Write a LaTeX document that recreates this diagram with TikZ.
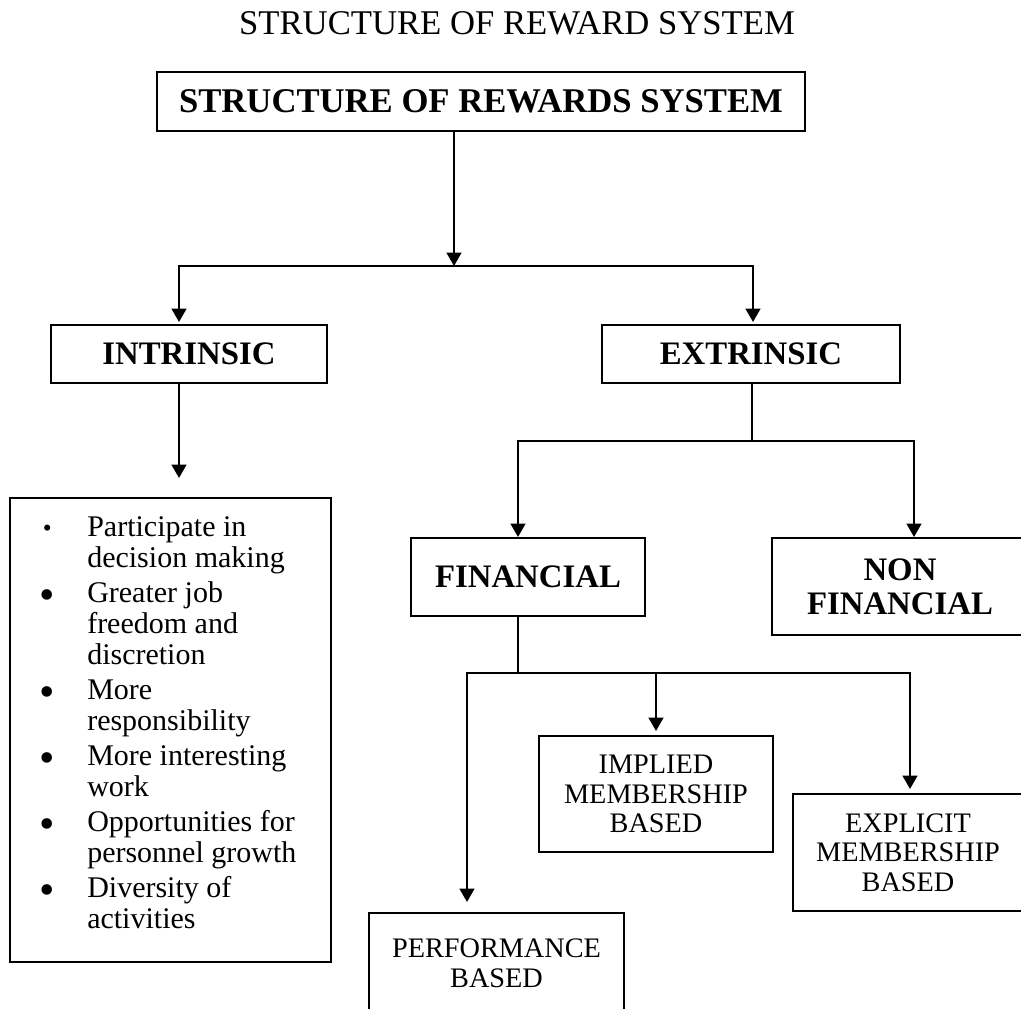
\documentclass[tikz,border=0pt]{standalone}
\usepackage{fontspec}
\setmainfont{Liberation Serif}
\usetikzlibrary{arrows.meta}

% bullets of the intrinsic list
\newcommand\firstbul{\makebox[58.5pt][l]{\hspace*{25.2pt}{\fontsize{19}{19}\selectfont •}}}
\newcommand\itembul{\makebox[58.5pt][l]{\hspace*{22.9pt}\raisebox{-5.3pt}{\fontsize{33}{33}\selectfont •}}}
\newcommand\itemind{\hspace*{58.5pt}}

\tikzset{
  box/.style={draw, line width=1.5pt, inner sep=0pt, align=center},
  headbox/.style={box, font=\bfseries\fontsize{24.6}{25.5}\selectfont},
  leafbox/.style={box, font=\fontsize{21.2}{22.1}\selectfont},
  link/.style={line width=1.7pt},
  arr/.style={link, -{Triangle[length=10pt,width=11pt]}},
}

\begin{document}
\begin{tikzpicture}[x=0.75pt, y=-0.75pt]
  \fill[white] (0,0) rectangle (1021,1009);
  \useasboundingbox (0,0) rectangle (1021,1009);

  % heading
  \node[font=\fontsize{26}{30}\selectfont, anchor=base, inner sep=0pt] (title) at (517,34.5) {STRUCTURE OF REWARD SYSTEM};

  % boxes
  \node[box, minimum width=486pt, minimum height=44.25pt, font=\bfseries\fontsize{26}{30}\selectfont] (top) at (481,101.5) {STRUCTURE OF REWARDS SYSTEM};
  \node[headbox, minimum width=207pt, minimum height=43.5pt] (intr) at (189,354) {INTRINSIC};
  \node[headbox, minimum width=223.5pt, minimum height=43.5pt] (extr) at (751,354) {EXTRINSIC};
  \node[headbox, minimum width=175.5pt, minimum height=58.5pt] (fin) at (528,577) {FINANCIAL};
  \node[headbox, minimum width=192pt, minimum height=72.75pt] (nonfin) at (900,586.5) {NON\\FINANCIAL};
  \node[leafbox, minimum width=175.5pt, minimum height=87pt] (impl) at (656,794) {IMPLIED\\MEMBERSHIP\\BASED};
  \node[leafbox, minimum width=172.5pt, minimum height=87.75pt] (expl) at (908,852.5) {EXPLICIT\\MEMBERSHIP\\BASED};
  \node[leafbox, minimum width=191.25pt, minimum height=75.75pt] (perf) at (496.5,963.5) {PERFORMANCE\\BASED};

  % intrinsic rewards list
  \node[box, minimum width=240.75pt, minimum height=348pt] (list) at (170.5,730) {};
  \node[anchor=north west, inner sep=0pt, yshift=-14.7pt, text width=240pt, align=flush left,
        font=\fontsize{22.5}{23}\selectfont] (listtext) at (list.north west) {%
    \firstbul Participate in\\
    \itemind decision making\\[3.5pt]
    \itembul Greater job\\
    \itemind freedom and\\
    \itemind discretion\\[3.5pt]
    \itembul More\\
    \itemind responsibility\\[3.5pt]
    \itembul More interesting\\
    \itemind work\\[3.5pt]
    \itembul Opportunities for\\
    \itemind personnel growth\\[3.5pt]
    \itembul Diversity of\\
    \itemind activities};

  % branch points
  \coordinate (j1) at (454,266);
  \coordinate (iL) at (179,266);
  \coordinate (eR) at (753,266);
  \coordinate (lt) at (179,478);
  \coordinate (j2) at (752,441);
  \coordinate (fL) at (518,441);
  \coordinate (nR) at (914,441);
  \coordinate (j3) at (518,673);
  \coordinate (pL) at (467,673);
  \coordinate (xR) at (910,673);

  % connectors
  \draw[arr] (top.south -| j1) -- (j1);
  \draw[arr, shorten >=1.5pt] (j1) -| (intr.north -| iL);
  \draw[arr, shorten >=1.5pt] (j1) -| (extr.north -| eR);
  \draw[arr] (intr.south -| lt) -- (lt);

  \draw[link] (extr.south -| j2) -- (j2);
  \draw[arr] (j2) -| (fin.north -| fL);
  \draw[arr] (j2) -| (nonfin.north -| nR);

  \draw[link] (fin.south -| j3) -- (j3);
  \draw[arr, shorten >=7.5pt] (j3) -| (perf.north -| pL);
  \draw[arr, shorten >=3pt] (j3) -| (impl.north);
  \draw[arr, shorten >=3pt] (j3) -| (expl.north -| xR);
\end{tikzpicture}
\end{document}
